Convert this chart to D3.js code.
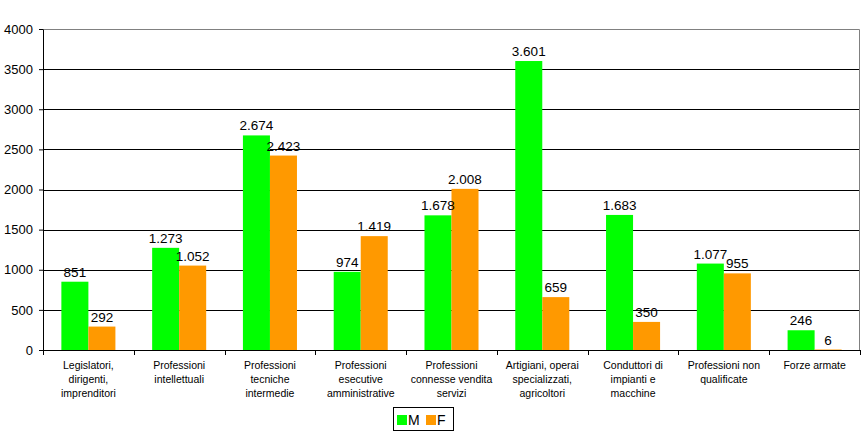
<!DOCTYPE html>
<html>
<head>
<meta charset="utf-8">
<script src="https://cdn.jsdelivr.net/npm/d3@7"></script>
<style>
  body { margin: 0; background: #fff; }
  svg text { font-family: "Liberation Sans", Arial, sans-serif; }
</style>
</head>
<body>
<div id="chart"></div>
<script>
// categories (lines of each label)
var categories = [
    ["Legislatori,", "dirigenti,", "imprenditori"],
    ["Professioni", "intellettuali"],
    ["Professioni", "tecniche", "intermedie"],
    ["Professioni", "esecutive", "amministrative"],
    ["Professioni", "connesse vendita", "servizi"],
    ["Artigiani, operai", "specializzati,", "agricoltori"],
    ["Conduttori di", "impianti e", "macchine"],
    ["Professioni non", "qualificate"],
    ["Forze armate"]
];
var valuesM = [851, 1273, 2674, 974, 1678, 3601, 1683, 1077, 246];
var valuesF = [292, 1052, 2423, 1419, 2008, 659, 350, 955, 6];
var seriesNames = ["M", "F"];
var seriesColors = ["#00ff00", "#ff9900"];
var yTicks = [0, 500, 1000, 1500, 2000, 2500, 3000, 3500, 4000];

var W = 867, H = 435;
var margin = {top: 29, right: 7, bottom: 85, left: 43};
var width = W - margin.left - margin.right;
var height = H - margin.top - margin.bottom;

var svg = d3.select('#chart').append('svg')
    .attr('width', W)
    .attr('height', H);

var chart = svg.append('g')
    .attr('transform', 'translate(' + margin.left + ',' + margin.top + ')');

var xScale = d3.scaleBand()
    .domain(d3.range(categories.length))
    .range([0, width]);

var xInner = d3.scaleBand()
    .domain(seriesNames)
    .range([0, xScale.bandwidth()])
    .paddingInner(0)
    .paddingOuter(0.68);

var yScale = d3.scaleLinear()
    .domain([0, 4000])
    .range([height, 0]);

// gridlines
chart.selectAll('.grid').data(yTicks.slice(1, -1)).enter()
    .append('line')
    .attr('x1', 0).attr('x2', width)
    .attr('y1', function(d) { return Math.round(yScale(d)) + 0.5; })
    .attr('y2', function(d) { return Math.round(yScale(d)) + 0.5; })
    .attr('stroke', '#000').attr('stroke-width', 1);

// plot border (top & right)
chart.append('path')
    .attr('d', 'M0,0.5H' + (width - 0.5) + 'V' + height)
    .attr('fill', 'none').attr('stroke', '#808080');

// bars
var data = categories.map(function(c, i) {
    return [
        {s: seriesNames[0], v: valuesM[i], c: seriesColors[0]},
        {s: seriesNames[1], v: valuesF[i], c: seriesColors[1]}
    ];
});

var groups = chart.selectAll('.grp').data(data).enter()
    .append('g')
    .attr('transform', function(d, i) { return 'translate(' + xScale(i) + ',0)'; });

groups.selectAll('rect').data(function(d) { return d; }).enter()
    .append('rect')
    .attr('x', function(d) { return xInner(d.s); })
    .attr('y', function(d) { return yScale(d.v); })
    .attr('width', xInner.bandwidth())
    .attr('height', function(d) { return height - yScale(d.v); })
    .attr('fill', function(d) { return d.c; });

var fmt = d3.formatLocale({decimal: ',', thousands: '.', grouping: [3], currency: ['', '€']}).format(',d');

groups.selectAll('.val').data(function(d) { return d; }).enter()
    .append('text')
    .attr('x', function(d) { return xInner(d.s) + xInner.bandwidth() / 2; })
    .attr('y', function(d) { return yScale(d.v) - 5; })
    .attr('text-anchor', 'middle')
    .attr('font-size', 13.5)
    .attr('fill', '#000')
    .text(function(d) { return fmt(d.v); });

// axes
var yAxis = d3.axisLeft(yScale).tickValues(yTicks).tickFormat(d3.format('d'))
    .tickSize(4).tickSizeOuter(0).tickPadding(6);
var yG = chart.append('g').call(yAxis);
yG.select('.domain').attr('stroke', '#000');
yG.selectAll('text').attr('font-size', 13).attr('fill', '#000')
    .style('font-family', '"Liberation Sans", Arial, sans-serif');

var xG = chart.append('g').attr('transform', 'translate(0,' + height + ')');
xG.append('line').attr('x1', 0).attr('x2', width).attr('y1', 0.5).attr('y2', 0.5).attr('stroke', '#000');
xG.selectAll('.tk').data(d3.range(categories.length + 1)).enter()
    .append('line')
    .attr('x1', function(i) { return Math.round(i * xScale.step()) + 0.5; })
    .attr('x2', function(i) { return Math.round(i * xScale.step()) + 0.5; })
    .attr('y1', 0).attr('y2', 5)
    .attr('stroke', '#000');

var labels = xG.selectAll('.cat').data(categories).enter()
    .append('text')
    .attr('text-anchor', 'middle')
    .attr('font-size', 10.5)
    .attr('fill', '#000')
    .attr('transform', function(d, i) { return 'translate(' + (xScale(i) + xScale.bandwidth() / 2) + ',19)'; });
labels.selectAll('tspan').data(function(d) { return d; }).enter()
    .append('tspan')
    .attr('x', 0)
    .attr('dy', function(d, j) { return j === 0 ? 0 : 14; })
    .text(function(d) { return d; });

// legend
var legend = svg.append('g').attr('transform', 'translate(393,407)');
legend.append('rect')
    .attr('x', 0.5).attr('y', 0.5).attr('width', 60).attr('height', 23)
    .attr('fill', '#fff').attr('stroke', '#000');
var items = legend.selectAll('.item').data(seriesNames).enter()
    .append('g')
    .attr('transform', function(d, i) { return 'translate(' + (4 + i * 29) + ',0)'; });
items.append('rect')
    .attr('x', 0).attr('y', 8).attr('width', 10).attr('height', 10)
    .attr('fill', function(d, i) { return seriesColors[i]; });
items.append('text')
    .attr('x', 11).attr('y', 18)
    .attr('font-size', 14).attr('fill', '#000')
    .text(function(d) { return d; });
</script>
</body>
</html>
